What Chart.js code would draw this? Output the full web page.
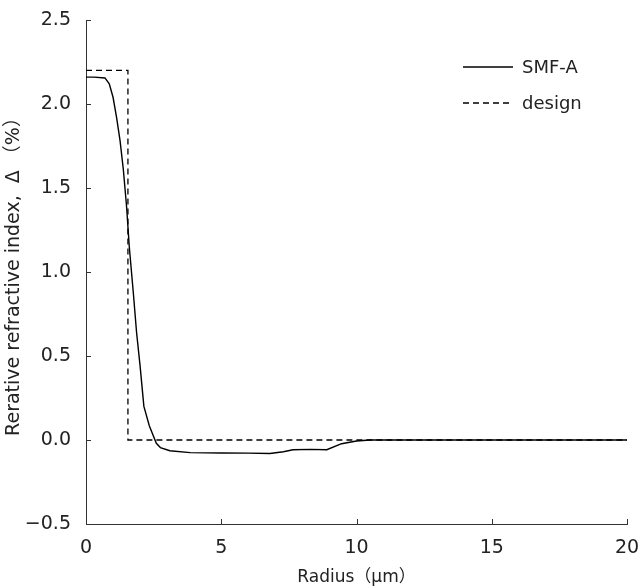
<!DOCTYPE html>
<html lang="en">
<head>
<meta charset="UTF-8">
<title>Refractive index profile</title>
<script src="https://cdn.jsdelivr.net/npm/chart.js"></script>
<style>
html, body { margin: 0; padding: 0; background: #fff; }
#profile { display: block; }
</style>
</head>
<body>
<canvas id="profile" width="641" height="588"></canvas>
<script>
// measured profile (radius in um, delta in %)
const radiusSMF = [0, 0.3, 0.7, 0.86, 1.0, 1.13, 1.26, 1.38, 1.5, 1.6, 1.75, 1.87, 2.0, 2.14, 2.34, 2.6, 2.75, 3.1, 3.85, 5.0, 6.0, 6.8, 7.3, 7.65, 8.3, 8.9, 9.45, 10.0, 10.5, 15, 20];
const deltaSMF  = [2.16, 2.16, 2.155, 2.12, 2.04, 1.92, 1.78, 1.61, 1.39, 1.15, 0.875, 0.64, 0.44, 0.2, 0.085, -0.02, -0.045, -0.064, -0.075, -0.077, -0.078, -0.08, -0.07, -0.058, -0.056, -0.058, -0.022, -0.006, 0, 0, 0];

// step-index design
const radiusDesign = [0, 1.55, 1.55, 20];
const deltaDesign  = [2.2, 2.2, 0, 0];

const xTicks = [0, 5, 10, 15, 20];
const yTicks = [-0.5, 0, 0.5, 1.0, 1.5, 2.0, 2.5];

const legendItems = [
    { label: 'SMF-A', dash: [] },
    { label: 'design', dash: [6, 4] }
];

const FONT = '"DejaVu Sans", "Noto Sans CJK JP", sans-serif';

function toPoints(xs, ys) {
    return xs.map((x, i) => ({ x: x, y: ys[i] }));
}

// inward tick marks on the left and bottom axes
const inwardTicks = {
    id: 'inwardTicks',
    afterDraw(chart) {
        const ctx = chart.ctx;
        const xs = chart.scales.x, ys = chart.scales.y;
        const area = chart.chartArea;
        ctx.save();
        ctx.strokeStyle = '#333';
        ctx.lineWidth = 1;
        ctx.beginPath();
        xTicks.forEach(v => {
            const px = Math.round(xs.getPixelForValue(v)) + 0.5;
            ctx.moveTo(px, area.bottom);
            ctx.lineTo(px, area.bottom - 5);
        });
        yTicks.forEach(v => {
            const py = Math.round(ys.getPixelForValue(v)) + 0.5;
            ctx.moveTo(area.left, py);
            ctx.lineTo(area.left + 5, py);
        });
        ctx.stroke();
        ctx.restore();
    }
};

// line-sample legend in the upper right of the plot
const lineLegend = {
    id: 'lineLegend',
    afterDraw(chart) {
        const ctx = chart.ctx;
        ctx.save();
        ctx.font = '18px ' + FONT;
        ctx.textBaseline = 'middle';
        ctx.fillStyle = '#222';
        legendItems.forEach((item, i) => {
            const y = 67 + i * 36;
            ctx.strokeStyle = '#000';
            ctx.lineWidth = 1.3;
            ctx.setLineDash(item.dash);
            ctx.beginPath();
            ctx.moveTo(463, y);
            ctx.lineTo(513, y);
            ctx.stroke();
            ctx.setLineDash([]);
            ctx.fillText(item.label, 522, y + 1);
        });
        ctx.restore();
    }
};

new Chart(document.getElementById('profile'), {
    type: 'line',
    data: {
        datasets: [
            {
                label: 'SMF-A',
                data: toPoints(radiusSMF, deltaSMF),
                borderColor: '#000',
                borderWidth: 1.4,
                pointRadius: 0,
                tension: 0
            },
            {
                label: 'design',
                data: toPoints(radiusDesign, deltaDesign),
                borderColor: '#000',
                borderWidth: 1.3,
                borderDash: [6, 4],
                pointRadius: 0,
                tension: 0
            }
        ]
    },
    options: {
        responsive: false,
        animation: false,
        layout: { padding: { left: 0, right: 14, top: 20, bottom: 0 } },
        plugins: {
            legend: { display: false },
            tooltip: { enabled: false }
        },
        scales: {
            x: {
                type: 'linear',
                min: 0,
                max: 20,
                afterBuildTicks: s => { s.ticks = xTicks.map(v => ({ value: v })); },
                afterFit: s => { s.height = 64; s.paddingLeft = 0; s.paddingRight = 0; },
                grid: { display: true, drawOnChartArea: false, drawTicks: false, color: '#333' },
                border: { color: '#333', width: 1 },
                ticks: {
                    padding: 13,
                    color: '#222',
                    font: { family: FONT, size: 19 },
                    callback: v => String(v)
                },
                title: {
                    display: true,
                    text: 'Radius（μm）',
                    color: '#222',
                    font: { family: FONT, size: 17 },
                    padding: { top: 0, bottom: 0 }
                }
            },
            y: {
                type: 'linear',
                min: -0.5,
                max: 2.5,
                afterBuildTicks: s => { s.ticks = yTicks.map(v => ({ value: v })); },
                afterFit: s => { s.width = 86; s.paddingTop = 0; s.paddingBottom = 0; },
                grid: { display: true, drawOnChartArea: false, drawTicks: false, color: '#333' },
                border: { color: '#333', width: 1 },
                ticks: {
                    padding: 15,
                    color: '#222',
                    font: { family: FONT, size: 19 },
                    callback: v => (v < 0 ? '−' : '') + Math.abs(v).toFixed(1)
                },
                title: {
                    display: true,
                    text: 'Rerative refractive index,  Δ （%）',
                    color: '#222',
                    font: { family: FONT, size: 19 },
                    padding: { top: 3, bottom: 0 }
                }
            }
        }
    },
    plugins: [inwardTicks, lineLegend]
});
</script>
</body>
</html>
